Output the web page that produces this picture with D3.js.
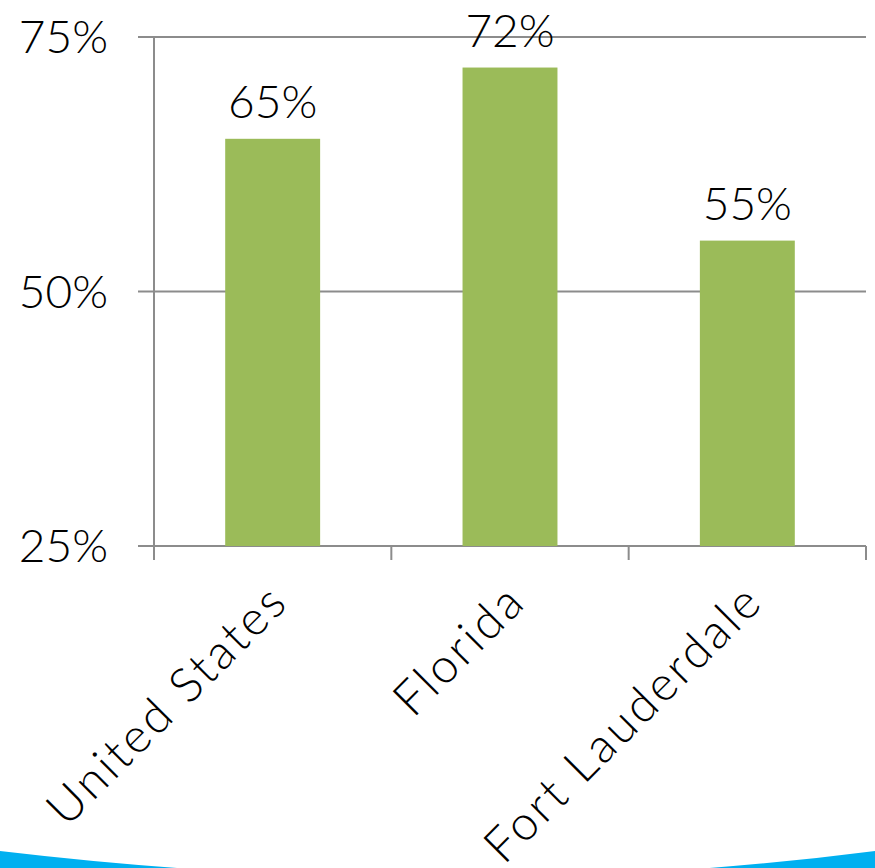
<!DOCTYPE html>
<html>
<head>
<meta charset="utf-8">
<script src="https://cdn.jsdelivr.net/npm/d3@7"></script>
<style>
  body { margin: 0; background: #fff; }
  text { font-family: "Lato", "Open Sans", sans-serif; font-weight: 300; }
</style>
</head>
<body>
<div id="chart"></div>
<script>
var categories = ["United States", "Florida", "Fort Lauderdale"];
var values = [65, 72, 55];
var yTicks = [25, 50, 75];

var W = 875, H = 868;
var margin = {top: 37, right: 9, bottom: 322, left: 154};
var width = W - margin.left - margin.right,
    height = H - margin.top - margin.bottom;

var svg = d3.select("#chart")
  .append("svg")
    .attr("width", W)
    .attr("height", H);

// blue decoration at the bottom of the slide
svg.append("path")
  .attr("d", "M0,851 Q456,905 875,851 L875,868 L0,868 Z")
  .attr("fill", "#00b0f0");

var g = svg.append("g")
  .attr("transform", "translate(" + margin.left + "," + margin.top + ")");

var x = d3.scaleBand()
  .domain(categories)
  .range([0, width])
  .paddingInner(0.6)
  .paddingOuter(0.3);

var y = d3.scaleLinear()
  .domain([25, 75])
  .range([height, 0]);

var gridColor = "#8c8c8c";

// gridlines + left tick marks
g.selectAll(".grid")
  .data(yTicks)
  .enter()
  .append("line")
    .attr("x1", -16)
    .attr("x2", width)
    .attr("y1", function(d){ return y(d); })
    .attr("y2", function(d){ return y(d); })
    .attr("stroke", gridColor)
    .attr("stroke-width", 2);

// y axis line
g.append("line")
  .attr("x1", 0).attr("x2", 0)
  .attr("y1", 0).attr("y2", height)
  .attr("stroke", gridColor)
  .attr("stroke-width", 2);

// category tick marks at band edges
var edges = categories.map(function(c){ return x(c) - x.step() * x.paddingInner() / 2; });
edges[0] = 0;
edges.push(width);
g.selectAll(".xtick")
  .data(edges)
  .enter()
  .append("line")
    .attr("x1", function(d){ return d; })
    .attr("x2", function(d){ return d; })
    .attr("y1", height)
    .attr("y2", height + 14)
    .attr("stroke", gridColor)
    .attr("stroke-width", 2);

// y tick labels
g.selectAll(".ylab")
  .data(yTicks)
  .enter()
  .append("text")
    .attr("x", -46)
    .attr("y", function(d){ return y(d); })
    .attr("dy", "0.35em")
    .attr("text-anchor", "end")
    .attr("font-size", "46px")
    .attr("fill", "#000")
    .text(function(d){ return d + "%"; });

// bars
g.selectAll(".bar")
  .data(values)
  .enter()
  .append("rect")
    .attr("x", function(d, i){ return x(categories[i]); })
    .attr("y", function(d){ return y(d); })
    .attr("width", x.bandwidth())
    .attr("height", function(d){ return height - y(d); })
    .attr("fill", "#9bbb59");

// value labels
g.selectAll(".val")
  .data(values)
  .enter()
  .append("text")
    .attr("x", function(d, i){ return x(categories[i]) + x.bandwidth() / 2; })
    .attr("y", function(d){ return y(d) - 21; })
    .attr("text-anchor", "middle")
    .attr("font-size", "46px")
    .attr("fill", "#000")
    .text(function(d){ return d + "%"; });

// category labels, rotated
g.selectAll(".cat")
  .data(categories)
  .enter()
  .append("text")
    .attr("transform", function(d){
      var cx = x(d) + x.bandwidth() / 2 + 18;
      return "translate(" + cx + "," + (height + 58) + ") rotate(-45)";
    })
    .attr("text-anchor", "end")
    .attr("font-size", "48px")
    .attr("letter-spacing", "3px")
    .attr("fill", "#000")
    .text(function(d){ return d; });
</script>
</body>
</html>
